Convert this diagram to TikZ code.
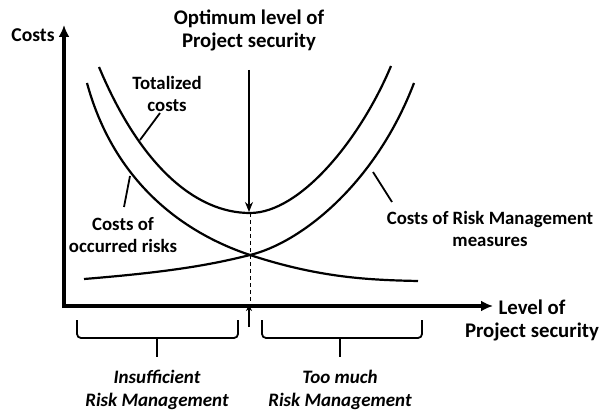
\documentclass[tikz,border=0pt]{standalone}
\usepackage{fontspec}
\setmainfont{Carlito}
\usetikzlibrary{arrows.meta}

\tikzset{
  lbl/.style = {font=\bfseries\fontsize{9.4}{11}\selectfont, align=center, inner sep=0pt},
  biglbl/.style = {lbl, font=\bfseries\fontsize{10.4}{11.5}\selectfont},
  brlbl/.style = {lbl, font=\bfseries\itshape\fontsize{9.5}{11.5}\selectfont},
  curve/.style = {line width=1.1pt},
  pointer/.style = {line width=0.9pt},
  brace/.style = {line width=0.9pt, rounded corners=2pt}
}

\begin{document}
\begin{tikzpicture}[x = .5pt, y = -.5pt]
        \useasboundingbox (0,0) rectangle (599,411);
        % axes
        \coordinate (o) at (64,306);
        \coordinate (ytop) at (64,25);
        \coordinate (xend) at (493,306);
        \draw[line width=1.6pt, -{Latex[length=6pt, width=5.5pt]}] (64,308) -- (ytop);
        \draw[line width=1.6pt, -{Latex[length=6pt, width=5.5pt]}] (o) -- (xend);
        \node[lbl, font=\bfseries\fontsize{9.8}{11}\selectfont, anchor=east] (costs) at (55,35) {Costs};
        \node[biglbl] (level) at (532,320) {Level of\\Project security};

        % curves
        \coordinate (totmin) at (250,213);
        \coordinate (cross) at (250,255);
        \coordinate (ontot) at (140,140);
        \coordinate (onocc) at (130,176);
        \coordinate (onrm) at (373,172);
        \draw[curve] (99,67) .. controls (140,165) and (195,213) .. (totmin)
                     .. controls (300,213) and (360,140) .. (391,66);
        \draw[curve] (87,83) .. controls (112,175) and (175,230) .. (cross)
                     .. controls (320,278) and (370,280) .. (418,281);
        \draw[curve] (84,279) .. controls (170,272) and (210,265) .. (cross)
                     .. controls (300,243) and (375,185) .. (414,83);

        % labels of the curves
        \node[lbl] (tot) at (167,94) {Totalized\\costs};
        \node[lbl] (occ) at (123,235) {Costs of\\occurred risks};
        \node[lbl] (rm) at (490,229) {Costs of Risk Management\\measures};
        \draw[pointer] (tot) ++(-7,19) coordinate (totp) -- (ontot);
        \draw[pointer] (occ) ++(1,-28) coordinate (occp) -- (onocc);
        \draw[pointer] (rm) ++(-98,-27) coordinate (rmp) -- (onrm);

        % optimum
        \node[biglbl] (opt) at (249,30) {Optimum level of\\Project security};
        \coordinate (optbot) at (249,327);
        \draw[line width=.8pt, shorten <=8pt, -{Stealth[length=5pt, width=4pt]}] (opt) ++(0,24) -- (249,212);
        \draw[line width=.5pt, dash pattern=on 2pt off 1.5pt] (totmin) -- (250,303);
        \draw[line width=.8pt, -{Stealth[length=3pt, width=3pt]}] (optbot) -- (249,305);

        % braces
        \draw[brace] (77,320) -- (77,338) -- (238,338) -- (238,320);
        \draw[brace] (157,338) -- (157,357);
        \draw[brace] (262,320) -- (262,338) -- (422,338) -- (422,320);
        \draw[brace] (340,338) -- (340,357);
        \node[brlbl] (insuff) at (157,390) {Insufficient\\Risk Management};
        \node[brlbl] (toomuch) at (340,390) {Too much\\Risk Management};
      \end{tikzpicture}
\end{document}
